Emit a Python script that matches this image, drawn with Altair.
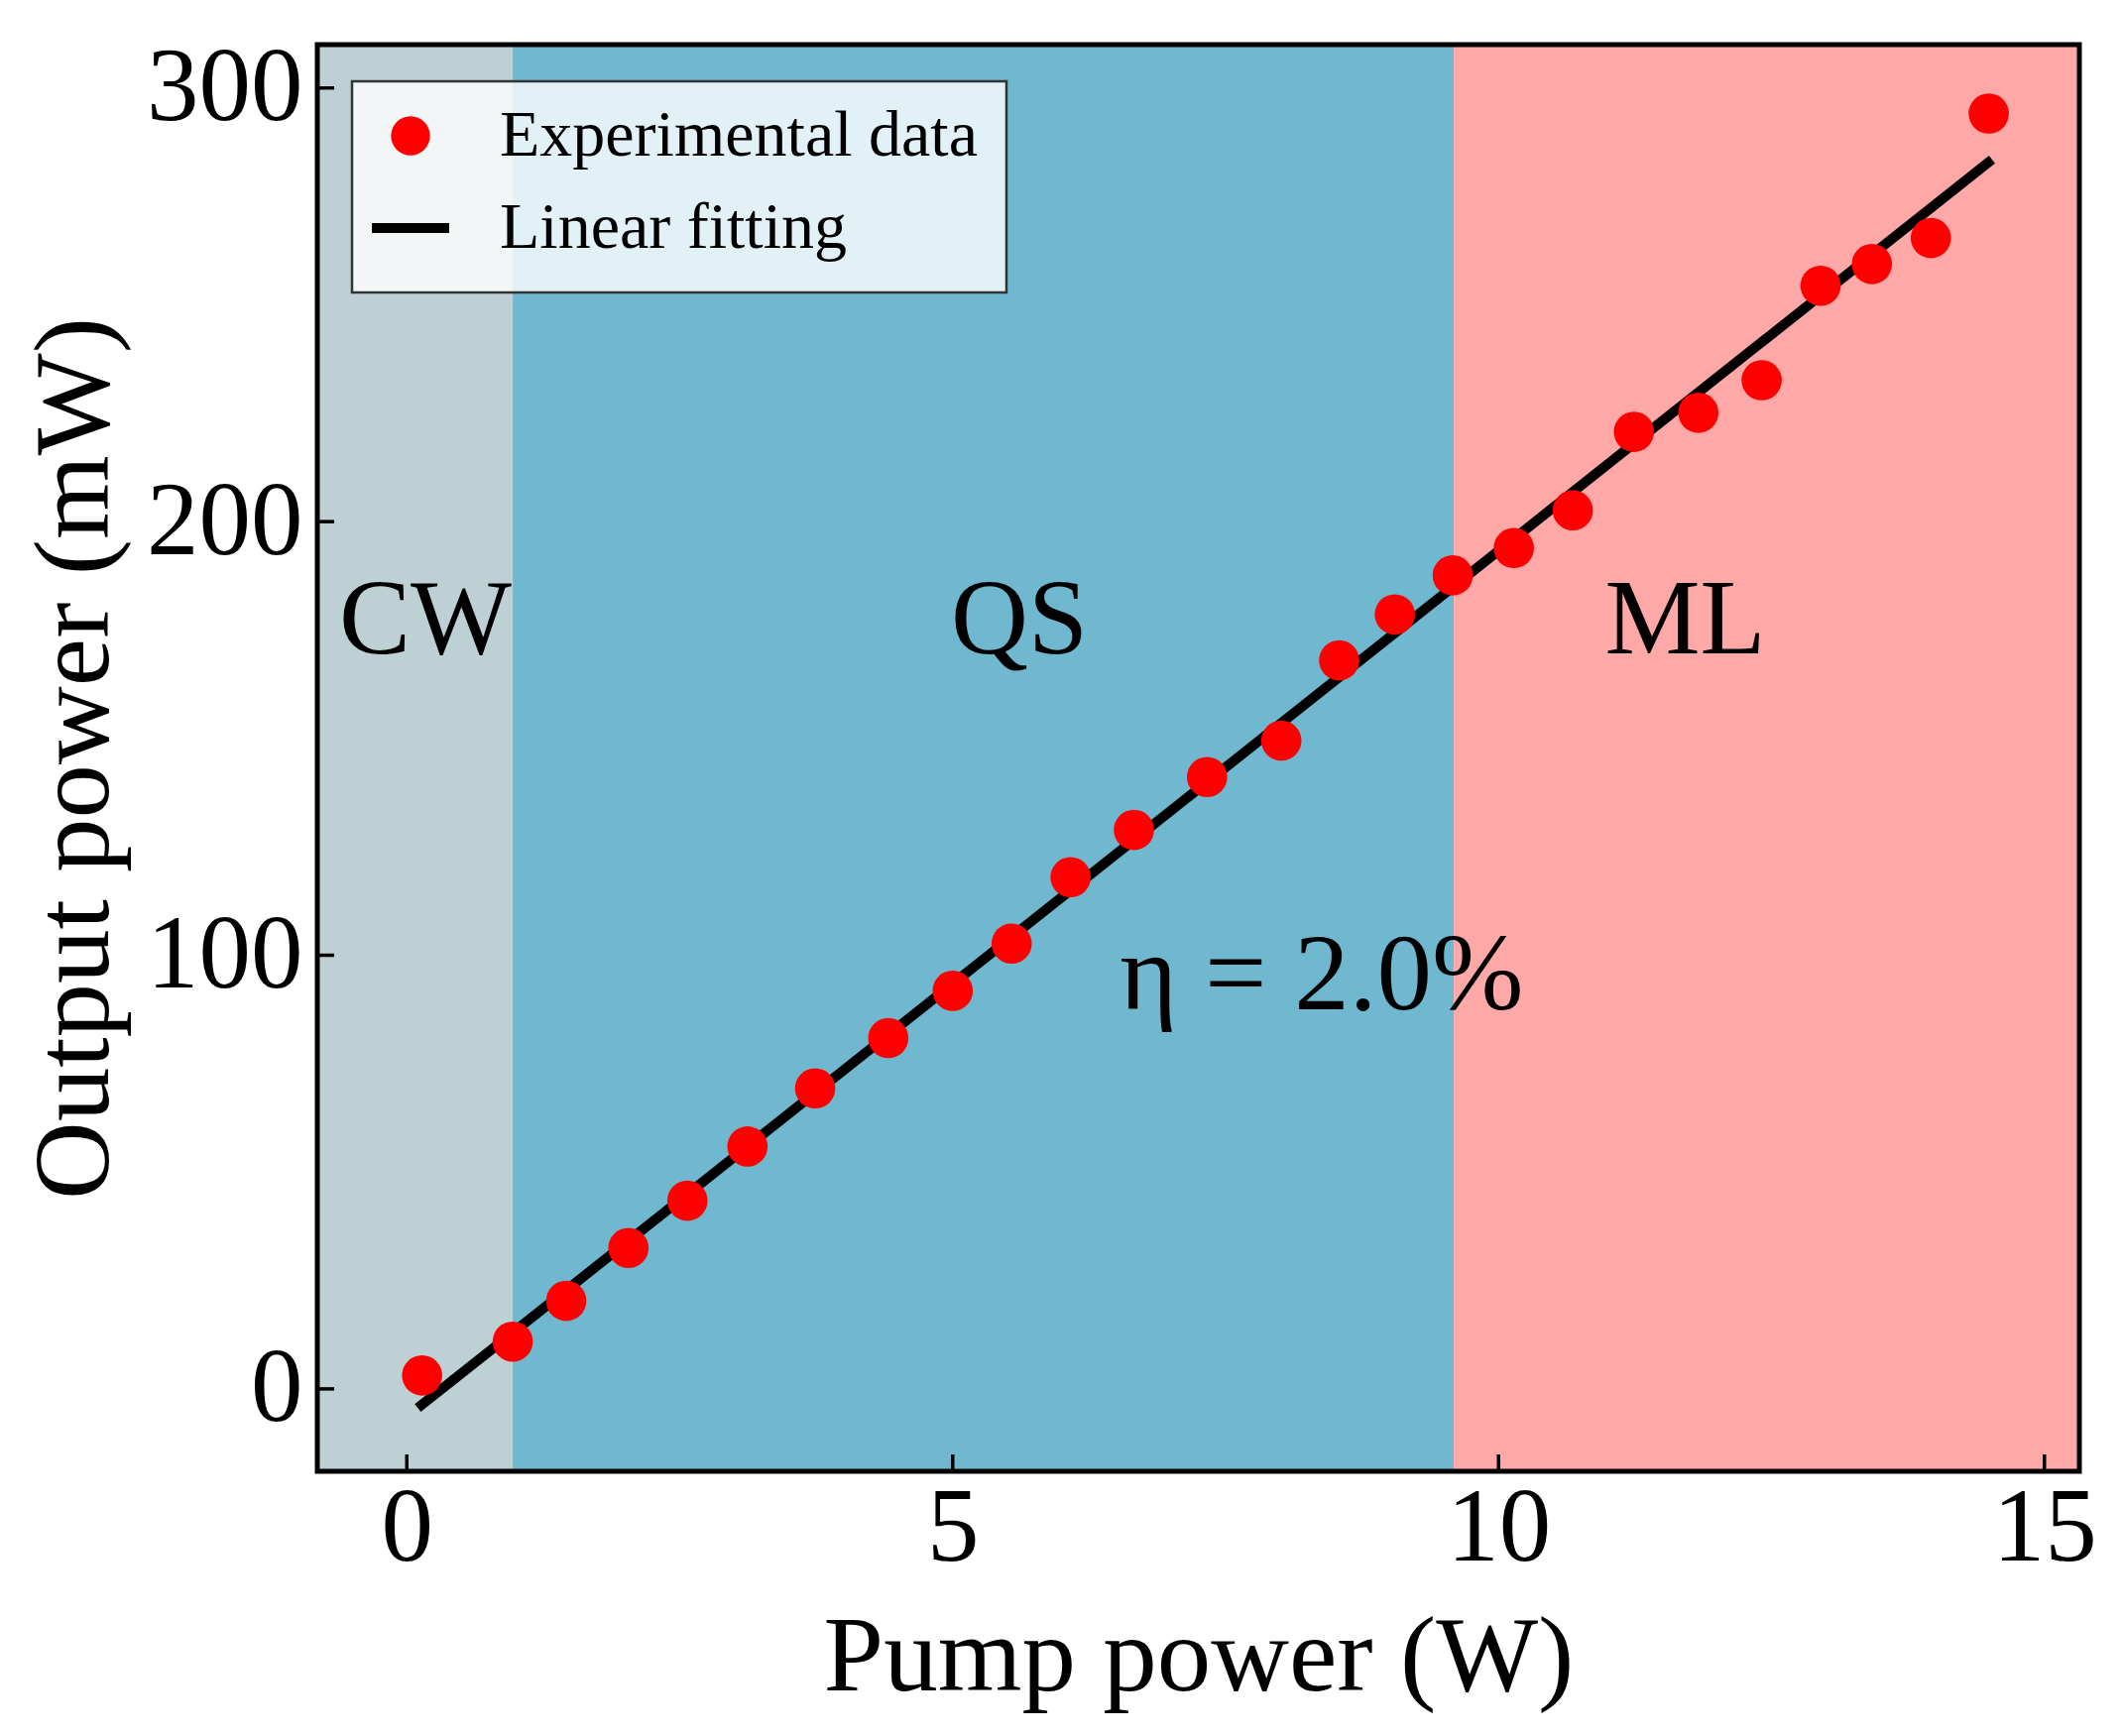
import altair as alt
import pandas as pd

# measured points (pump power in W, output power in mW)
pump_w = [0.14, 0.97, 1.46, 2.03, 2.57, 3.12, 3.74, 4.41, 5.0, 5.54, 6.08, 6.66, 7.33,
          8.01, 8.54, 9.05, 9.58, 10.14, 10.68, 11.24, 11.83, 12.41, 12.95, 13.42, 13.96, 14.49]
output_mw = [3.1, 10.9, 20.3, 32.5, 43.4, 55.9, 69.3, 80.9, 91.8, 102.7, 118.0, 128.9, 141.1,
             149.5, 168.0, 178.6, 187.6, 193.9, 202.6, 220.7, 225.1, 232.6, 254.4, 259.4, 265.4, 294.1]

# linear fit end points
fit_pump_w = [0.1, 14.52]
fit_output_mw = [-4.4, 283.5]

# operating regimes
region_names = ["CW", "QS", "ML"]
region_start = [-0.82, 0.97, 9.59]
region_end = [0.97, 9.59, 15.32]
region_colors = ["#bdd1d4", "#6fb8cf", "#ffa8a8"]
region_label_x = [0.17, 5.61, 11.71]
region_label_y = [177, 177, 177]

x_ticks = [0, 5, 10, 15]
y_ticks = [0, 100, 200, 300]
legend_labels = ["Experimental data", "Linear fitting"]

W, H = 1777, 1439
FONT = "Liberation Serif"

x_scale = alt.Scale(domain=[-0.82, 15.32], nice=False, zero=False)
y_scale = alt.Scale(domain=[-19, 310], nice=False, zero=False)
x_axis = alt.Axis(title="Pump power (W)", values=x_ticks, labelPadding=6, titlePadding=24)
y_axis = alt.Axis(title="Output power (mW)", values=y_ticks, labelPadding=15, titlePadding=16)


def X(field):
    return alt.X(f"{field}:Q", scale=x_scale, axis=x_axis)


def Y(field):
    return alt.Y(f"{field}:Q", scale=y_scale, axis=y_axis)


regions = pd.DataFrame({"name": region_names, "start": region_start, "end": region_end,
                        "lx": region_label_x, "ly": region_label_y})
points = pd.DataFrame({"pump": pump_w, "out": output_mw})
fit = pd.DataFrame({"pump": fit_pump_w, "out": fit_output_mw})
one = pd.DataFrame({"k": [0]})

bands = alt.Chart(regions).mark_rect().encode(
    x=X("start"), x2="end",
    y=alt.value(0), y2=alt.value(H),
    color=alt.Color("name:N", scale=alt.Scale(domain=region_names, range=region_colors), legend=None),
)

band_text = alt.Chart(regions).mark_text(font=FONT, fontSize=108, baseline="middle", color="black").encode(
    x=X("lx"), y=Y("ly"), text="name:N"
)

eta = alt.Chart(pd.DataFrame({"x": [8.38], "y": [95], "t": ["η = 2.0%"]})).mark_text(
    font=FONT, fontSize=111, baseline="middle", color="black"
).encode(x=X("x"), y=Y("y"), text="t:N")

fit_line = alt.Chart(fit).mark_line(color="black", strokeWidth=10).encode(x=X("pump"), y=Y("out"))

dots = alt.Chart(points).mark_point(filled=True, color="#ff0000", size=1650, opacity=1).encode(
    x=X("pump"), y=Y("out")
)

xt = alt.Chart(pd.DataFrame({"v": x_ticks})).mark_rule(color="black", strokeWidth=3.5).encode(
    x=X("v"), y=alt.value(H), y2=alt.value(H - 17)
)
yt = alt.Chart(pd.DataFrame({"v": y_ticks})).mark_rule(color="black", strokeWidth=3.5).encode(
    y=Y("v"), x=alt.value(0), x2=alt.value(17)
)

# legend box
leg_box = alt.Chart(one).mark_rect(fill="white", fillOpacity=0.8, stroke="#333333", strokeWidth=2.5).encode(
    x=alt.value(35), x2=alt.value(695), y=alt.value(37), y2=alt.value(250)
)
leg_dot = alt.Chart(one).mark_point(filled=True, color="#ff0000", size=1550, opacity=1).encode(
    x=alt.value(94), y=alt.value(92)
)
leg_line = alt.Chart(one).mark_rule(color="black", strokeWidth=10).encode(
    x=alt.value(55), x2=alt.value(133), y=alt.value(185)
)
leg_t1 = alt.Chart(one).mark_text(font=FONT, fontSize=66, align="left", baseline="middle", color="black",
                                  text=legend_labels[0]).encode(x=alt.value(184), y=alt.value(92))
leg_t2 = alt.Chart(one).mark_text(font=FONT, fontSize=66, align="left", baseline="middle", color="black",
                                  text=legend_labels[1]).encode(x=alt.value(184), y=alt.value(185))

frame = alt.Chart(one).mark_rect(filled=False, stroke="black", strokeWidth=5).encode(
    x=alt.value(0), x2=alt.value(W), y=alt.value(0), y2=alt.value(H)
)

chart = alt.layer(
    bands, band_text, eta, fit_line, dots, xt, yt,
    leg_box, leg_dot, leg_line, leg_t1, leg_t2, frame
).properties(
    width=W, height=H,
    padding={"left": 312, "top": 37, "right": 20, "bottom": 258},
    autosize=alt.AutoSizeParams(type="none"),
    background="white",
).configure_view(
    strokeWidth=0
).configure_axis(
    labelFont=FONT, titleFont=FONT, labelFontSize=105, titleFontSize=109,
    labelColor="black", titleColor="black", titleFontWeight="normal",
    grid=False, ticks=False, domain=False,
)

chart.save("out.html", embed_options={"renderer": "svg", "actions": False})
